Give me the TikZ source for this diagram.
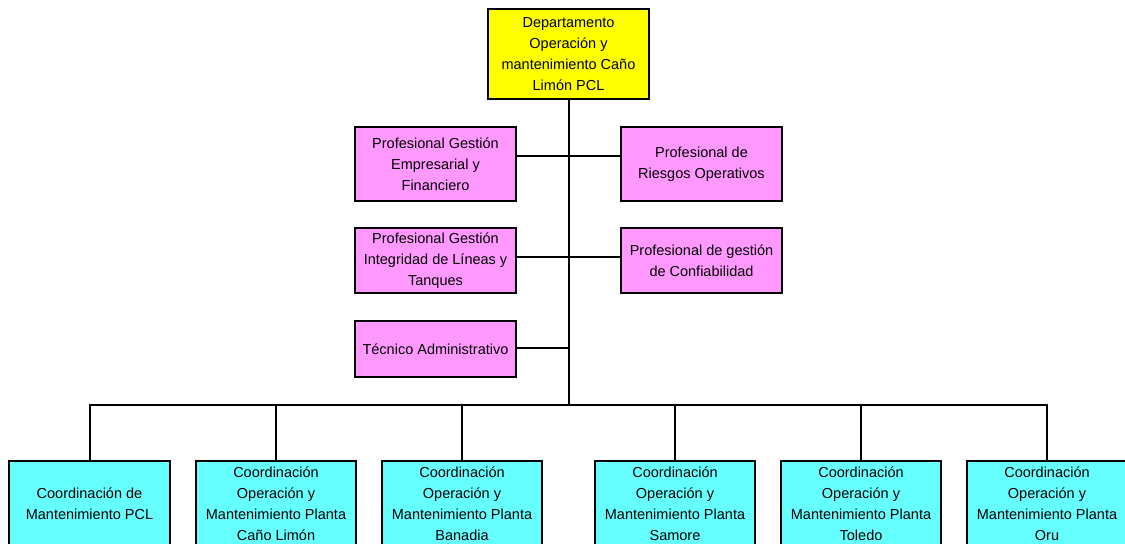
\documentclass[tikz,border=0pt]{standalone}
\usepackage{fontspec}
\setmainfont{Liberation Sans}
\definecolor{headyellow}{HTML}{FFFF00}
\definecolor{staffpink}{HTML}{FF99FF}
\definecolor{coordcyan}{HTML}{66FFFF}
\begin{document}
\begin{tikzpicture}[x=1bp,y=-1bp,
  orgbox/.style={draw=black, line width=2bp, align=center, inner sep=2bp,
    text=black, font=\fontsize{14.5bp}{21bp}\selectfont, minimum width=161bp},
  headbox/.style={orgbox, fill=headyellow, minimum height=90bp},
  staffbox/.style={orgbox, fill=staffpink},
  coordbox/.style={orgbox, fill=coordcyan, minimum width=160bp, minimum height=85bp},
  link/.style={draw=black, line width=2bp}]
\useasboundingbox (0,0) rectangle (1125,544);

% head of the department
\node[headbox] (dep) at (568.5,54) {Departamento\\Operación y\\mantenimiento Caño\\Limón PCL};

% staff positions
\node[staffbox, minimum height=74bp] (pge) at (435.5,164) {Profesional Gestión\\Empresarial y\\Financiero};
\node[staffbox, minimum height=74bp] (pro) at (701.5,164) {Profesional de\\Riesgos Operativos};
\node[staffbox, minimum height=65bp] (pgi) at (435.5,260.5) {Profesional Gestión\\Integridad de Líneas y\\Tanques};
\node[staffbox, minimum height=65bp] (pgc) at (701.5,260.5) {Profesional de gestión\\de Confiabilidad};
\node[staffbox, minimum height=56bp] (tad) at (435.5,349) {Técnico Administrativo};

% coordinations
\node[coordbox] (c1) at (89.5,503.5) {Coordinación de\\Mantenimiento PCL};
\node[coordbox] (c2) at (276,503.5) {Coordinación\\Operación y\\Mantenimiento Planta\\Caño Limón};
\node[coordbox] (c3) at (462,503.5) {Coordinación\\Operación y\\Mantenimiento Planta\\Banadia};
\node[coordbox] (c4) at (675,503.5) {Coordinación\\Operación y\\Mantenimiento Planta\\Samore};
\node[coordbox] (c5) at (861,503.5) {Coordinación\\Operación y\\Mantenimiento Planta\\Toledo};
\node[coordbox] (c6) at (1047,503.5) {Coordinación\\Operación y\\Mantenimiento Planta\\Oru};

% trunk and staff branches
\coordinate (bus) at (568,405);
\draw[link] (dep.south) -- (dep.south |- bus);
\draw[link] (pge.east |- 0,156) -- (pro.west |- 0,156);
\draw[link] (pgi.east |- 0,257) -- (pgc.west |- 0,257);
\draw[link] (tad.east |- 0,348) -- (dep.south |- 0,348);

% bus to the coordinations
\draw[link, line join=miter] (c1.north) -- (c1.north |- bus) -- (c6.north |- bus) -- (c6.north);
\foreach \c in {c2,c3,c4,c5}
  \draw[link] (\c.north |- bus) -- (\c.north);
\end{tikzpicture}
\end{document}
